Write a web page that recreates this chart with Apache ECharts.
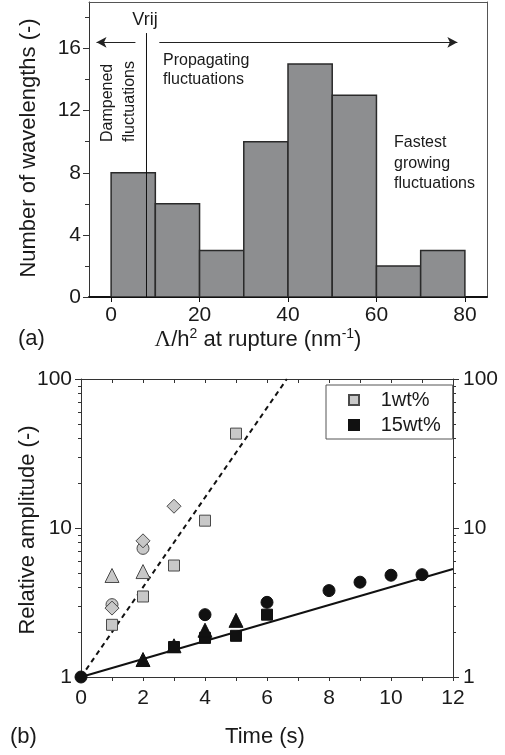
<!DOCTYPE html>
<html><head><meta charset="utf-8">
<script src="https://cdn.jsdelivr.net/npm/echarts@6/dist/echarts.min.js"></script>
<style>html,body{margin:0;padding:0;background:#fff}#c{width:505px;height:755px}</style>
</head><body><div id="c"></div>
<script>
// ---- Panel (a): histogram ----
const binStarts = [0, 10, 20, 30, 40, 50, 60, 70];
const binEnds   = [10, 20, 30, 40, 50, 60, 70, 80];
const binCounts = [8, 6, 3, 10, 15, 13, 2, 3];
const histXLabels = [0, 20, 40, 60, 80];
const histYLabels = [0, 4, 8, 12, 16];
const histYMinor = [2, 6, 10, 14, 18];
const vrijX = 8;
const vrijTop = 17.0;
const arrowY = 16.4;
const dampArrow = [5.5, -3.3];
const propArrow = [10.9, 78.3];

// ---- Panel (b): relative amplitude vs time ----
const sq1Time = [1, 2, 3, 4, 5];
const sq1Amp  = [2.24, 3.47, 5.6, 11.2, 43];
const ci1Time = [1, 2];
const ci1Amp  = [3.06, 7.3];
const tr1Time = [1, 2];
const tr1Amp  = [4.8, 5.1];
const di1Time = [1, 2, 3];
const di1Amp  = [2.9, 8.2, 14.0];

const sq15Time = [3, 4, 5, 6];
const sq15Amp  = [1.59, 1.83, 1.89, 2.62];
const ci15Time = [0, 4, 6, 8, 9, 10, 11];
const ci15Amp  = [1, 2.62, 3.17, 3.8, 4.33, 4.82, 4.86];
const tr15Time = [2, 3, 4, 5];
const tr15Amp  = [1.31, 1.62, 2.06, 2.40];

const dashedFitTime = [0, 6.64];
const dashedFitAmp  = [1, 100];
const solidFitTime  = [0, 12];
const solidFitAmp   = [1, 5.3];

const ampLabels = [1, 10, 100];
const ampMinor = [2, 3, 4, 5, 6, 7, 8, 9, 20, 30, 40, 50, 60, 70, 80, 90];

const zip = (a, b) => a.map((v, i) => [v, b[i]]);
const FONT = '"Liberation Sans", Arial, sans-serif';
const TXT = '#1a1a1a';

const chart = echarts.init(document.getElementById('c'), null, {renderer: 'canvas'});

const gray = {color: '#c8c8c8', borderColor: '#4a4a4a', borderWidth: 1, opacity: 1};
const black = {color: '#111', borderColor: '#111', borderWidth: 1, opacity: 1};

function scat(name, t, a, symbol, size, style) {
  return {
    type: 'scatter', name, xAxisIndex: 2, yAxisIndex: 2,
    data: zip(t, a), symbol, symbolSize: size, itemStyle: style, z: 5, clip: false,
    emphasis: {disabled: true}
  };
}
const noLine = {show: false, onZero: false};

const option = {
  animation: false,
  backgroundColor: '#fff',
  textStyle: {fontFamily: FONT, color: TXT},
  grid: [
    {left: 89, top: 2, width: 398, height: 295},
    {left: 81, top: 379, width: 372, height: 298}
  ],
  xAxis: [
    {gridIndex: 0, type: 'value', min: -5, max: 85, position: 'bottom',
     axisLine: {show: true, onZero: false, lineStyle: {color: '#111', width: 2}},
     axisTick: {show: true, customValues: histXLabels, length: 5, lineStyle: {color: '#111'}},
     axisLabel: {customValues: histXLabels, fontSize: 21, color: TXT, margin: 8, fontFamily: FONT},
     splitLine: {show: false}},
    {gridIndex: 0, type: 'value', min: -5, max: 85, position: 'top',
     axisLine: {show: true, onZero: false, lineStyle: {color: '#555', width: 1}},
     axisTick: {show: false}, axisLabel: {show: false}, splitLine: {show: false}},
    {gridIndex: 1, type: 'value', min: 0, max: 12, interval: 2, position: 'bottom',
     axisLine: {show: true, onZero: false, lineStyle: {color: '#333', width: 1}},
     axisTick: {show: true, length: 4, lineStyle: {color: '#333'}},
     minorTick: {show: true, splitNumber: 2, length: 4, lineStyle: {color: '#333'}},
     axisLabel: {fontSize: 21, color: TXT, margin: 11, fontFamily: FONT},
     splitLine: {show: false}},
    {gridIndex: 1, type: 'value', min: 0, max: 12, interval: 1, position: 'top',
     axisLine: {show: true, onZero: false, lineStyle: {color: '#333', width: 1}},
     axisTick: {show: true, inside: true, length: 4, lineStyle: {color: '#333'}},
     axisLabel: {show: false}, splitLine: {show: false}}
  ],
  yAxis: [
    {gridIndex: 0, type: 'value', min: 0, max: 19, position: 'left',
     axisLine: {show: true, onZero: false, lineStyle: {color: '#333', width: 1}},
     axisTick: {show: true, customValues: histYLabels, length: 6, lineStyle: {color: '#333'}},
     axisLabel: {customValues: histYLabels, fontSize: 21, color: TXT, margin: 8, fontFamily: FONT},
     splitLine: {show: false}},
    {gridIndex: 0, type: 'value', min: 0, max: 19, position: 'right',
     axisLine: {show: true, onZero: false, lineStyle: {color: '#555', width: 1}},
     axisTick: {show: false}, axisLabel: {show: false}, splitLine: {show: false}},
    {gridIndex: 1, type: 'log', logBase: 10, min: 1, max: 100, position: 'left',
     axisLine: {show: true, onZero: false, lineStyle: {color: '#333', width: 1}},
     axisTick: {show: true, customValues: ampLabels, length: 6, lineStyle: {color: '#333'}},
     axisLabel: {customValues: ampLabels, fontSize: 21, color: TXT, margin: 9, fontFamily: FONT},
     splitLine: {show: false}},
    {gridIndex: 1, type: 'log', logBase: 10, min: 1, max: 100, position: 'left', offset: 0,
     axisLine: noLine,
     axisTick: {show: true, customValues: ampMinor, length: 3, lineStyle: {color: '#333'}},
     axisLabel: {show: false}, splitLine: {show: false}},
    {gridIndex: 1, type: 'log', logBase: 10, min: 1, max: 100, position: 'right',
     axisLine: {show: true, onZero: false, lineStyle: {color: '#333', width: 1}},
     axisTick: {show: true, customValues: ampLabels, length: 6, lineStyle: {color: '#333'}},
     axisLabel: {customValues: ampLabels, fontSize: 21, color: TXT, margin: 10, fontFamily: FONT},
     splitLine: {show: false}},
    {gridIndex: 1, type: 'log', logBase: 10, min: 1, max: 100, position: 'right', offset: 0,
     axisLine: noLine,
     axisTick: {show: true, customValues: ampMinor, length: 3, lineStyle: {color: '#333'}},
     axisLabel: {show: false}, splitLine: {show: false}},
    {gridIndex: 0, type: 'value', min: 0, max: 19, position: 'left', offset: 0,
     axisLine: noLine,
     axisTick: {show: true, customValues: histYMinor, length: 4, lineStyle: {color: '#333'}},
     axisLabel: {show: false}, splitLine: {show: false}}
  ],
  legend: {
    data: ['1wt%', '15wt%'], orient: 'vertical', left: 326, top: 385,
    backgroundColor: '#fff', borderColor: '#555', borderWidth: 1, borderRadius: 0,
    padding: [5, 12, 4, 22], itemGap: 5, itemWidth: 10, itemHeight: 10,
    formatter: n => '   ' + n,
    textStyle: {fontSize: 20, color: TXT, fontFamily: FONT}
  },
  series: [
    {
      type: 'custom', xAxisIndex: 0, yAxisIndex: 0, clip: true,
      data: binStarts.map((s, i) => [s, binEnds[i], binCounts[i]]),
      encode: {x: [0, 1], y: 2},
      renderItem: (params, api) => {
        const p0 = api.coord([api.value(0), api.value(2)]);
        const p1 = api.coord([api.value(1), 0]);
        return {type: 'rect',
          shape: {x: p0[0], y: p0[1], width: p1[0] - p0[0], height: p1[1] - p0[1]},
          style: {fill: '#8d8e90', stroke: '#2a2a2a', lineWidth: 1.5}};
      },
      z: 2
    },
    {
      type: 'line', xAxisIndex: 0, yAxisIndex: 0, silent: true,
      data: [[vrijX, 0], [vrijX, vrijTop]], symbol: 'none',
      lineStyle: {color: '#111', width: 1}, z: 4,
      markLine: {
        silent: true, symbol: ['none', 'arrow'], symbolSize: [8, 10],
        lineStyle: {color: '#222', width: 1, type: 'solid'},
        label: {show: false}, emphasis: {disabled: true},
        data: [
          [{coord: [dampArrow[0], arrowY]}, {coord: [dampArrow[1], arrowY]}],
          [{coord: [propArrow[0], arrowY]}, {coord: [propArrow[1], arrowY]}]
        ]
      }
    },
    {
      type: 'line', xAxisIndex: 2, yAxisIndex: 2, silent: true,
      data: zip(dashedFitTime, dashedFitAmp), symbol: 'none',
      lineStyle: {color: '#111', width: 2, type: [5, 4]}, z: 3
    },
    {
      type: 'line', xAxisIndex: 2, yAxisIndex: 2, silent: true,
      data: zip(solidFitTime, solidFitAmp), symbol: 'none',
      lineStyle: {color: '#111', width: 2}, z: 3
    },
    scat('1wt%', sq1Time, sq1Amp, 'rect', 11, gray),
    scat('1wt% circle', ci1Time, ci1Amp, 'circle', 12, gray),
    scat('1wt% triangle', tr1Time, tr1Amp, 'triangle', 14, gray),
    scat('1wt% diamond', di1Time, di1Amp, 'diamond', 14, gray),
    scat('15wt%', sq15Time, sq15Amp, 'rect', 11, black),
    scat('15wt% circle', ci15Time, ci15Amp, 'circle', 12, black),
    scat('15wt% triangle', tr15Time, tr15Amp, 'triangle', 14, black)
  ],
  graphic: [
    {type: 'text', x: 29, y: 148, rotation: Math.PI / 2,
     style: {text: 'Number of wavelengths (-)', font: '22px ' + FONT, fill: TXT, textAlign: 'center', textVerticalAlign: 'middle'}},
    {type: 'text', x: 258, y: 340,
     style: {text: '{g|Λ}{n|/h}{s|2}{n| at rupture (nm}{s|-1}{n|)}', textAlign: 'center', textVerticalAlign: 'middle', fill: TXT,
       rich: {
         g: {fontFamily: '"Liberation Serif", serif', fontSize: 23, lineHeight: 26, fill: TXT},
         n: {fontFamily: FONT, fontSize: 22, lineHeight: 26, fill: TXT},
         s: {fontFamily: FONT, fontSize: 14, lineHeight: 14, verticalAlign: 'top', fill: TXT}
       }}},
    {type: 'text', x: 18, y: 339,
     style: {text: '(a)', font: '22px ' + FONT, fill: TXT, textAlign: 'left', textVerticalAlign: 'middle'}},
    {type: 'text', x: 145, y: 20,
     style: {text: 'Vrij', font: '18px ' + FONT, fill: TXT, textAlign: 'center', textVerticalAlign: 'middle'}},
    {type: 'text', x: 108, y: 142, rotation: Math.PI / 2,
     style: {text: 'Dampened', font: '16px ' + FONT, fill: TXT, textAlign: 'left', textVerticalAlign: 'middle'}},
    {type: 'text', x: 130, y: 142, rotation: Math.PI / 2,
     style: {text: 'fluctuations', font: '16px ' + FONT, fill: TXT, textAlign: 'left', textVerticalAlign: 'middle'}},
    {type: 'text', x: 163, y: 61,
     style: {text: 'Propagating', font: '16px ' + FONT, fill: TXT, textAlign: 'left', textVerticalAlign: 'middle'}},
    {type: 'text', x: 163, y: 80,
     style: {text: 'fluctuations', font: '16px ' + FONT, fill: TXT, textAlign: 'left', textVerticalAlign: 'middle'}},
    {type: 'text', x: 394, y: 143,
     style: {text: 'Fastest', font: '16px ' + FONT, fill: TXT, textAlign: 'left', textVerticalAlign: 'middle'}},
    {type: 'text', x: 394, y: 164,
     style: {text: 'growing', font: '16px ' + FONT, fill: TXT, textAlign: 'left', textVerticalAlign: 'middle'}},
    {type: 'text', x: 394, y: 184,
     style: {text: 'fluctuations', font: '16px ' + FONT, fill: TXT, textAlign: 'left', textVerticalAlign: 'middle'}},
    {type: 'text', x: 28, y: 530, rotation: Math.PI / 2,
     style: {text: 'Relative amplitude (-)', font: '22px ' + FONT, fill: TXT, textAlign: 'center', textVerticalAlign: 'middle'}},
    {type: 'text', x: 265, y: 737,
     style: {text: 'Time (s)', font: '22px ' + FONT, fill: TXT, textAlign: 'center', textVerticalAlign: 'middle'}},
    {type: 'text', x: 10, y: 737,
     style: {text: '(b)', font: '22px ' + FONT, fill: TXT, textAlign: 'left', textVerticalAlign: 'middle'}}
  ]
};
chart.setOption(option);
</script>
</body></html>
